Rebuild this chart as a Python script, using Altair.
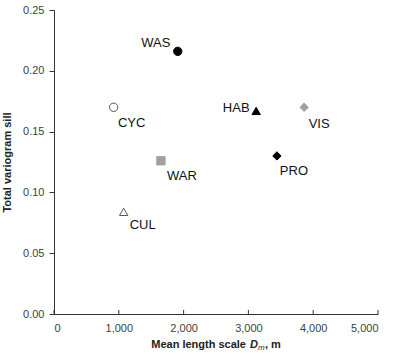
import altair as alt
import pandas as pd

labels = ["WAS", "CYC", "WAR", "CUL", "HAB", "VIS", "PRO"]
length_scale = [1910, 920, 1650, 1075, 3120, 3860, 3440]
sill = [0.216, 0.170, 0.126, 0.084, 0.167, 0.170, 0.130]
x_ticks = [0, 1000, 2000, 3000, 4000, 5000]
y_ticks = [0, 0.05, 0.1, 0.15, 0.2, 0.25]

shapes = ["circle", "circle", "square", "triangle-up", "triangle-up", "diamond", "diamond"]
fills = ["black", "white", "#a0a0a0", "white", "black", "#a0a0a0", "black"]
strokes = ["black", "#555555", "#a0a0a0", "#555555", "black", "#a0a0a0", "black"]
label_offsets = {
    "WAS": (-22, -8), "CYC": (18, 16), "WAR": (21, 15), "CUL": (19, 13),
    "HAB": (-20, -3), "VIS": (15, 17), "PRO": (17, 15),
}

df = pd.DataFrame({"Label": labels, "D": length_scale, "Sill": sill})
FONT = "Liberation Sans"

xs = alt.Scale(domain=[0, 5000], nice=False, zero=False)
ys = alt.Scale(domain=[0, 0.25], nice=False)

x_axis = alt.Axis(
    title=None, values=x_ticks, format=",d", ticks=False, labelPadding=8,
    grid=False, domainColor="#333333", labelColor="#404040",
    labelFont=FONT, labelFontSize=11)
y_axis = alt.Axis(
    title="Total variogram sill", values=y_ticks,
    format=".2f", tickSize=5, labelPadding=5, grid=False,
    domainColor="#333333", tickColor="#333333", labelColor="#404040",
    labelFont=FONT, labelFontSize=11, titleFont=FONT, titleFontSize=11,
    titleFontWeight="bold", titleColor="#222222", titleX=-47, titleY=152,
    titleBaseline="middle", titleAlign="center")

base = alt.Chart(df)

tick_marks = alt.Chart(pd.DataFrame({"t": x_ticks})).mark_rule(color="#333333").encode(
    x=alt.X("t:Q", scale=xs, axis=x_axis),
    y=alt.value(304), y2=alt.value(300),
)

points = base.mark_point(size=70, strokeWidth=1, opacity=1).encode(
    x=alt.X("D:Q", scale=xs, axis=x_axis),
    y=alt.Y("Sill:Q", scale=ys, axis=y_axis),
    shape=alt.Shape("Label:N", scale=alt.Scale(domain=labels, range=shapes), legend=None),
    fill=alt.Fill("Label:N", scale=alt.Scale(domain=labels, range=fills), legend=None),
    stroke=alt.Stroke("Label:N", scale=alt.Scale(domain=labels, range=strokes), legend=None),
)

text_layers = []
for lab in labels:
    dx, dy = label_offsets[lab]
    text_layers.append(
        base.transform_filter(alt.datum.Label == lab).mark_text(
            dx=dx, dy=dy, font=FONT, fontSize=13, color="#111111",
            align="center", baseline="middle"
        ).encode(x=alt.X("D:Q", scale=xs, axis=x_axis),
                 y=alt.Y("Sill:Q", scale=ys, axis=y_axis), text="Label:N")
    )

one = alt.Data(values=[{"a": 1}])
t1 = alt.Chart(one).mark_text(font=FONT, fontSize=11, fontWeight="bold", align="right",
                              baseline="middle", color="#222222").encode(
    x=alt.value(192), y=alt.value(335), text=alt.value("Mean length scale"))
t2 = alt.Chart(one).mark_text(font=FONT, fontSize=11, fontWeight="bold", fontStyle="italic",
                              align="left", baseline="middle", color="#222222").encode(
    x=alt.value(196), y=alt.value(335), text=alt.value("D"))
t3 = alt.Chart(one).mark_text(font=FONT, fontSize=8, fontStyle="italic",
                              align="left", baseline="middle", color="#222222").encode(
    x=alt.value(204), y=alt.value(338), text=alt.value("m"))
t4 = alt.Chart(one).mark_text(font=FONT, fontSize=11, fontWeight="bold",
                              align="left", baseline="middle", color="#222222").encode(
    x=alt.value(211), y=alt.value(335), text=alt.value(", m"))

chart = alt.layer(tick_marks, points, *text_layers, t1, t2, t3, t4).properties(
    width=324, height=304,
    autosize=alt.AutoSizeParams(type="none"),
    padding={"left": 54, "top": 10, "right": 22, "bottom": 40},
).configure(background="white", view=alt.ViewConfig(stroke=None))

chart.save("out.html", embed_options={"renderer": "svg", "actions": False})
